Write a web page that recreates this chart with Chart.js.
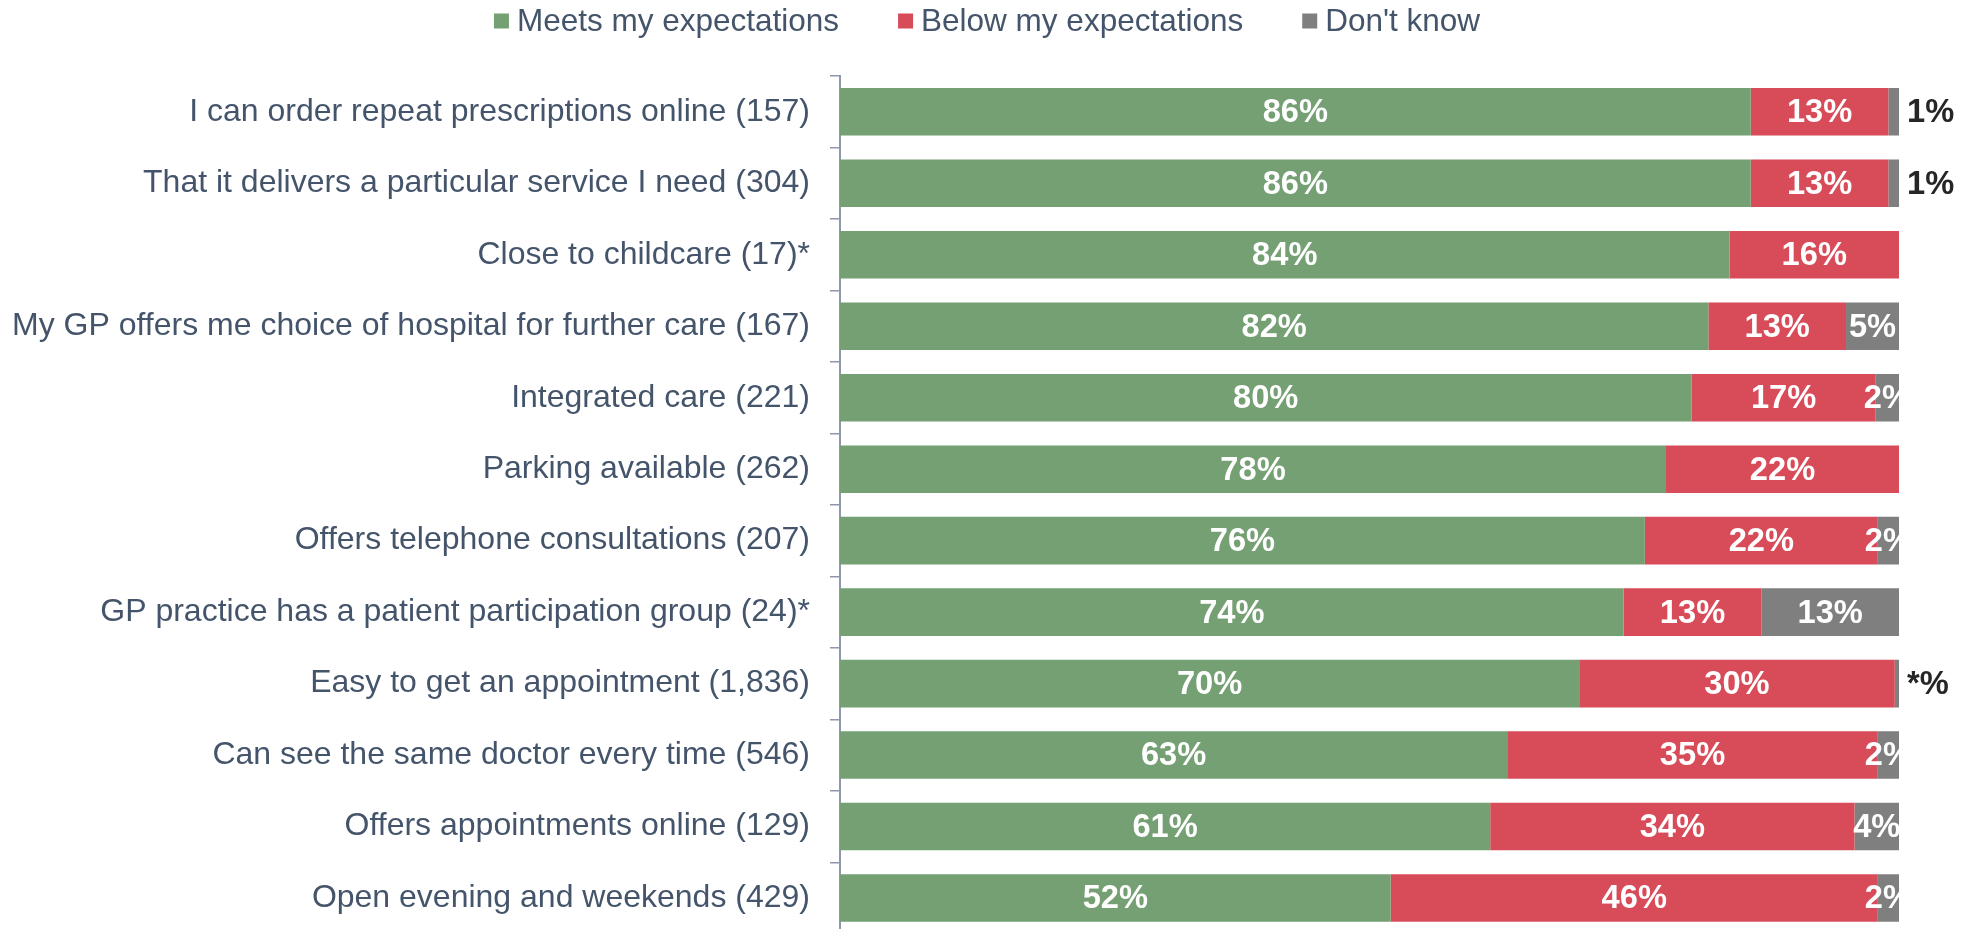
<!DOCTYPE html>
<html>
<head>
<meta charset="utf-8">
<script src="https://cdn.jsdelivr.net/npm/chart.js@4"></script>
<style>
  html, body { margin: 0; padding: 0; background: #ffffff; width: 1968px; height: 929px; overflow: hidden; }
  #wrap { position: relative; width: 1968px; height: 973px; }
</style>
</head>
<body>
<div id="wrap"><canvas id="c"></canvas></div>
<script>
// ---- data ----
const categories = [
  "I can order repeat prescriptions online (157)",
  "That it delivers a particular service I need (304)",
  "Close to childcare (17)*",
  "My GP offers me choice of hospital for further care (167)",
  "Integrated care (221)",
  "Parking available (262)",
  "Offers telephone consultations (207)",
  "GP practice has a patient participation group (24)*",
  "Easy to get an appointment (1,836)",
  "Can see the same doctor every time (546)",
  "Offers appointments online (129)",
  "Open evening and weekends (429)"
];
const seriesNames = ["Meets my expectations", "Below my expectations", "Don't know"];
const meets  = [86, 86, 84, 82, 80.4, 78, 76, 74, 69.8, 63, 61.4, 52];
const below  = [13, 13, 16, 13, 17.4, 22, 22, 13, 29.8, 35, 34.4, 46];
const dontKnow = [1, 1, 0, 5, 2.2, 0, 2, 13, 0.4, 2, 4.2, 2];

// ---- styles ----
const FONT = "'Liberation Sans', Arial, Helvetica, sans-serif";
const colors = ["#75a073", "#d84b59", "#7f7f7f"];
const textBlue = "#44546A";
const axisColor = "#8E97AB";

function pctLabel(v) {
  if (v <= 0) return null;
  if (v < 0.5) return "*%";
  return Math.round(v) + "%";
}

const customLegend = {
  id: "customLegend",
  afterDraw(chart) {
    const ctx = chart.ctx;
    ctx.save();
    ctx.font = "31.5px " + FONT;
    const box = 15, gapBoxText = 8, gapItems = 59;
    const items = chart.data.datasets.map(d => ({ text: d.label, color: d.backgroundColor, w: ctx.measureText(d.label).width }));
    let total = 0;
    items.forEach((it, i) => { total += box + gapBoxText + it.w + (i < items.length - 1 ? gapItems : 0); });
    let x = chart.width / 2 - total / 2 + 3;
    const y = 21;
    ctx.textBaseline = "middle";
    ctx.textAlign = "left";
    items.forEach(it => {
      ctx.fillStyle = it.color;
      ctx.fillRect(x, y - box / 2, box, box);
      x += box + gapBoxText;
      ctx.fillStyle = textBlue;
      ctx.fillText(it.text, x, y + 1);
      x += it.w + gapItems;
    });
    ctx.restore();
  }
};

const barLabels = {
  id: "barLabels",
  afterDatasetsDraw(chart) {
    const ctx = chart.ctx;
    const area = chart.chartArea;
    const sx = 0.96;
    ctx.save();
    ctx.font = "bold 34px " + FONT;
    ctx.textBaseline = "middle";
    chart.data.datasets.forEach((ds, di) => {
      const meta = chart.getDatasetMeta(di);
      meta.data.forEach((bar, i) => {
        const v = ds.data[i];
        const txt = pctLabel(v);
        if (!txt) return;
        const p = bar.getProps(["x", "y", "base"], true);
        ctx.save();
        if (di === 2 && v < 1.5) {
          ctx.fillStyle = "#262626";
          ctx.textAlign = "left";
          ctx.translate(Math.max(p.x, p.base) + 8, p.y + 1);
          ctx.scale(sx, 1);
          ctx.fillText(txt, 0, 0);
        } else {
          ctx.beginPath();
          ctx.rect(area.left, area.top, area.right - area.left, area.bottom - area.top);
          ctx.clip();
          ctx.fillStyle = "#ffffff";
          ctx.textAlign = "center";
          ctx.translate((p.x + p.base) / 2, p.y + 1);
          ctx.scale(sx, 1);
          ctx.fillText(txt, 0, 0);
        }
        ctx.restore();
      });
    });
    ctx.restore();
  }
};

const whiteBg = {
  id: "whiteBg",
  beforeDraw(chart) {
    const ctx = chart.ctx;
    ctx.save();
    ctx.fillStyle = "#ffffff";
    ctx.fillRect(0, 0, chart.width, chart.height);
    ctx.restore();
  }
};

new Chart(document.getElementById("c"), {
  type: "bar",
  data: {
    labels: categories,
    datasets: [
      { label: seriesNames[0], data: meets, backgroundColor: colors[0] },
      { label: seriesNames[1], data: below, backgroundColor: colors[1] },
      { label: seriesNames[2], data: dontKnow, backgroundColor: colors[2] }
    ]
  },
  options: {
    indexAxis: "y",
    responsive: true,
    maintainAspectRatio: false,
    animation: false,
    layout: { padding: { top: 76, right: 69, bottom: 0, left: 0 } },
    datasets: { bar: { categoryPercentage: 1.0, barPercentage: 0.665, borderWidth: 0 } },
    scales: {
      x: { stacked: true, min: 0, max: 100, display: false },
      y: {
        stacked: true,
        afterFit(scale) { scale.width = 840; },
        border: { display: true, color: axisColor, width: 2 },
        grid: { offset: true, drawOnChartArea: false, drawTicks: true, tickLength: 10, color: axisColor, lineWidth: 1.5 },
        ticks: { autoSkip: false, color: textBlue, padding: 20, font: { family: FONT, size: 32 } }
      }
    },
    plugins: {
      legend: { display: false },
      tooltip: { enabled: false }
    }
  },
  plugins: [whiteBg, customLegend, barLabels]
});
</script>
</body>
</html>
